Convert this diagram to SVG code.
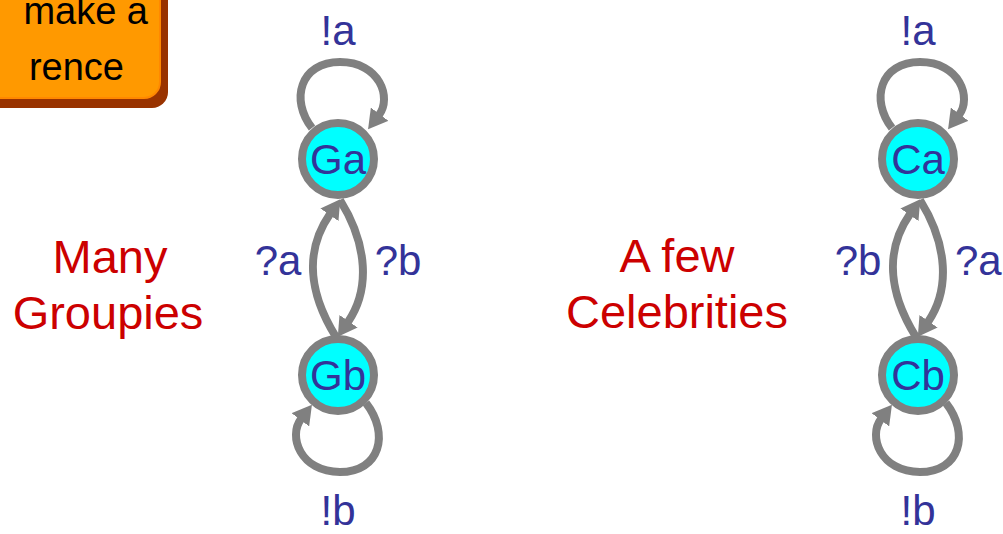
<svg xmlns="http://www.w3.org/2000/svg" width="1003" height="534" viewBox="0 0 1003 534">
<style>
  .edge { fill: none; stroke: #808080; stroke-width: 8; marker-end: url(#arr); }
  .node circle { fill: #00FFFF; stroke: #808080; stroke-width: 8; }
  .nlab { font-family: "Liberation Sans", "DejaVu Sans", sans-serif; font-size: 42px; fill: #333399; text-anchor: middle; }
  .elab { font-family: "Liberation Sans", "DejaVu Sans", sans-serif; font-size: 42px; fill: #333399; text-anchor: middle; }
  .title { font-family: "Liberation Sans", "DejaVu Sans", sans-serif; font-size: 47px; fill: #CC0000; text-anchor: middle; }
  .note { font-family: "Liberation Sans", "DejaVu Sans", sans-serif; font-size: 38px; fill: #000000; text-anchor: end; }
</style>
<defs>
  <marker id="arr" viewBox="0 -11 19 22" refX="1" refY="0" markerWidth="19" markerHeight="22" markerUnits="userSpaceOnUse" orient="auto">
    <path d="M0,-11 L19,0 L0,11 z" fill="#808080"/>
  </marker>
</defs>
<rect width="1003" height="534" fill="#FFFFFF"/>

<g id="note">
  <rect x="-22" y="-20" width="190" height="128" rx="16" fill="#993300"/>
  <rect x="-30" y="-30" width="190" height="128" rx="16" fill="#FF9900" stroke="#FF8800" stroke-width="2"/>
  <text class="note" x="148" y="24">make a</text>
  <text class="note" x="124" y="80">rence</text>
</g>

<g id="titles">
  <text class="title" x="110" y="273">Many</text>
  <text class="title" x="108" y="329">Groupies</text>
  <text class="title" x="677" y="272">A few</text>
  <text class="title" x="677" y="328">Celebrities</text>
</g>

<g id="connectors">
  <path class="edge" d="M 312,128 C 290,100 300,62 340,62 C 380,62 392,98 379,115"/>
  <path class="edge" d="M 336,337 C 308,292 305,250 330,214"/>
  <path class="edge" d="M 340,200 C 368,245 370,290 348,322"/>
  <path class="edge" d="M 366,403 C 390,434 380,472 340,472 C 300,472 288,436 301,419"/>

  <path class="edge" d="M 892,128 C 870,100 880,62 920,62 C 960,62 972,98 959,115"/>
  <path class="edge" d="M 916,337 C 888,292 885,250 910,214"/>
  <path class="edge" d="M 920,200 C 948,245 950,290 928,322"/>
  <path class="edge" d="M 946,403 C 970,434 960,472 920,472 C 880,472 868,436 881,419"/>
</g>

<g id="edge-labels">
  <text class="elab" x="338" y="45">!a</text>
  <text class="elab" x="278" y="275">?a</text>
  <text class="elab" x="398" y="275">?b</text>
  <text class="elab" x="338" y="525">!b</text>
  <text class="elab" x="918" y="45">!a</text>
  <text class="elab" x="858" y="275">?b</text>
  <text class="elab" x="955" y="275" style="text-anchor:start">?a</text>
  <text class="elab" x="918" y="525">!b</text>
</g>

<g id="Ga" class="node">
  <circle cx="338" cy="159" r="36"/>
  <text class="nlab" x="338" y="174">Ga</text>
</g>
<g id="Gb" class="node">
  <circle cx="338" cy="375" r="36"/>
  <text class="nlab" x="338" y="390">Gb</text>
</g>
<g id="Ca" class="node">
  <circle cx="918" cy="159" r="36"/>
  <text class="nlab" x="918" y="174">Ca</text>
</g>
<g id="Cb" class="node">
  <circle cx="918" cy="375" r="36"/>
  <text class="nlab" x="918" y="390">Cb</text>
</g>
</svg>
